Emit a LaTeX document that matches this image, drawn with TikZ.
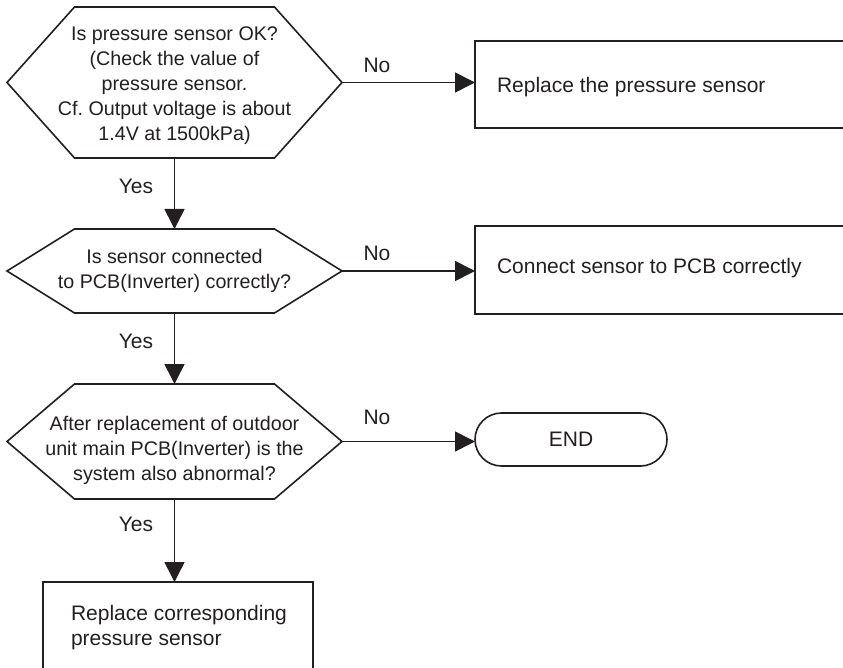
\documentclass[tikz,border=0pt]{standalone}
\usepackage{fontspec}
\setmainfont{Liberation Sans}
\usetikzlibrary{arrows.meta}
\definecolor{ink}{HTML}{231F20}
\frenchspacing
\begin{document}
\begin{tikzpicture}[x=1pt,y=-1pt,
  every node/.style={font=\fontsize{21}{25}\selectfont, text=ink, inner sep=0pt, outer sep=0pt},
  hextext/.style={align=center, font=\fontsize{19.7}{25}\selectfont},
  hexframe/.style={minimum width=335pt},
  shapeline/.style={draw=ink, line width=1.6pt},
  boxframe/.style={draw=ink, line width=1.6pt, anchor=north west},
  flow/.style={draw=ink, line width=1.6pt, -{Triangle[length=20pt,width=20pt]}},
  endbox/.style={draw=ink, line width=1.6pt, rounded corners=26.5pt, minimum width=192pt, minimum height=53pt}
]
\useasboundingbox (0,0) rectangle (843,668);
\clip (0,0) rectangle (843,668);

% hexagon decisions
\node[hexframe, minimum height=151pt] (h1) at (174.5,82.5) {};
\node[hexframe, minimum height=84pt] (h2) at (174.5,271) {};
\node[hexframe, minimum height=115pt] (h3) at (174.5,441.5) {};
\foreach \h in {h1,h2,h3}{
  \draw[shapeline] (\h.west) -- ([xshift=67.5pt]\h.north west) -- ([xshift=-67.5pt]\h.north east)
    -- (\h.east) -- ([xshift=-67.5pt]\h.south east) -- ([xshift=67.5pt]\h.south west) -- cycle;
}
\node[hextext] (h1t) at (174.5,85.5) {Is pressure sensor OK?\\(Check the value of\\pressure sensor.\\Cf. Output voltage is about\\1.4V at 1500kPa)};
\node[hextext] (h2t) at (174.5,271) {Is sensor connected\\to PCB(Inverter) correctly?};
\node[hextext] (h3t) at (174.5,450.5) {After replacement of outdoor\\unit main PCB(Inverter) is the\\system also abnormal?};

% action boxes
\node[boxframe, minimum width=375pt, minimum height=87pt] (b1) at (475,41) {};
\node[anchor=base west] (b1t) at (497,93) {Replace the pressure sensor};
\node[boxframe, minimum width=375pt, minimum height=88pt] (b2) at (475,226) {};
\node[anchor=base west] (b2t) at (497,273) {Connect sensor to PCB correctly};
\node[endbox] (e) at (571,439.5) {END};
\node[boxframe, minimum width=270pt, minimum height=100pt] (b4) at (43,582) {};
\node[align=left, anchor=north west] (b4t) at (71,605.5) {Replace corresponding\\pressure sensor};

% connectors
\draw[flow] (h1.east) -- (h1.east -| b1.west);
\draw[flow] (h2.east) -- (h2.east -| b2.west);
\draw[flow] (h3.east) -- (h3.east -| e.west);
\draw[flow] (h1.south) -- (h2.north);
\draw[flow] (h2.south) -- (h3.north);
\draw[flow] (h3.south) -- (h3.south |- b4.north);

% labels
\node (n1) at (377,65.5) {No};
\node (n2) at (377,253.5) {No};
\node (n3) at (377,417.5) {No};
\node (y1) at (136,186.5) {Yes};
\node (y2) at (136,341.5) {Yes};
\node (y3) at (136,524) {Yes};
\end{tikzpicture}
\end{document}
